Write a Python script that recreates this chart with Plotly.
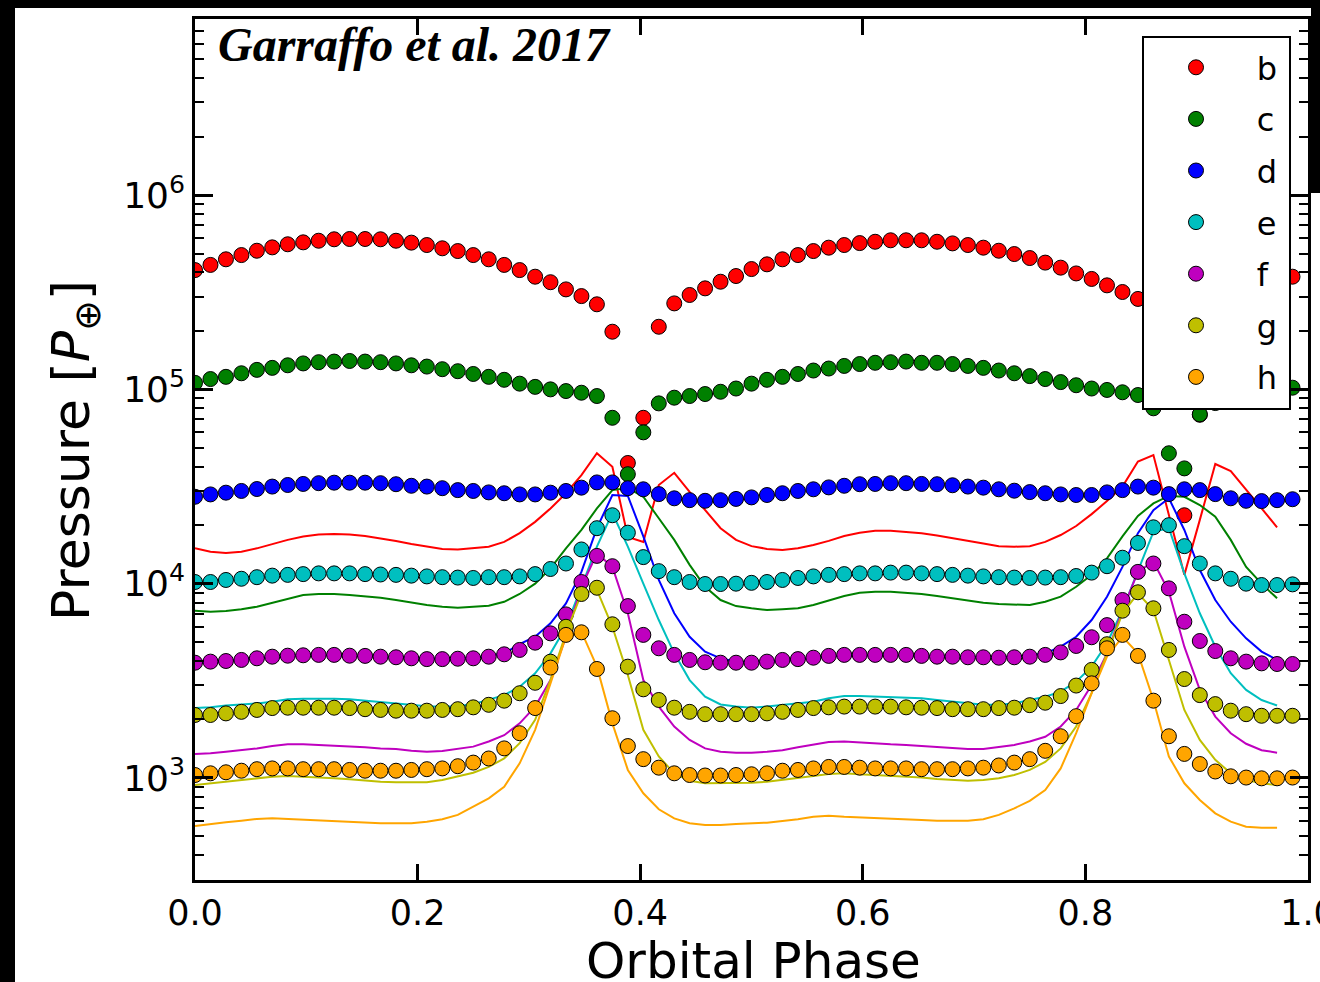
import plotly.graph_objects as go

# ---------------- data ----------------
PHASE = [0.0, 0.0139, 0.0278, 0.0417, 0.0556, 0.0694, 0.0833, 0.0972, 0.1111, 0.125,
         0.1389, 0.1528, 0.1667, 0.1806, 0.1944, 0.2083, 0.2222, 0.2361, 0.25, 0.2639,
         0.2778, 0.2917, 0.3056, 0.3194, 0.3333, 0.3472, 0.3611, 0.375, 0.3889, 0.4028,
         0.4167, 0.4306, 0.4444, 0.4583, 0.4722, 0.4861, 0.5, 0.5139, 0.5278, 0.5417,
         0.5556, 0.5694, 0.5833, 0.5972, 0.6111, 0.625, 0.6389, 0.6528, 0.6667, 0.6806,
         0.6944, 0.7083, 0.7222, 0.7361, 0.75, 0.7639, 0.7778, 0.7917, 0.8056, 0.8194,
         0.8333, 0.8472, 0.8611, 0.875, 0.8889, 0.9028, 0.9167, 0.9306, 0.9444, 0.9583,
         0.9722, 0.9861]
LINE_PHASE = PHASE[:71]

PLANETS = ["b", "c", "d", "e", "f", "g", "h"]

# markers (pressure, P_earth)
B_PTS = [4.11e5, 4.37e5, 4.67e5, 4.91e5, 5.17e5, 5.38e5, 5.58e5, 5.71e5, 5.82e5, 5.92e5,
         5.94e5, 5.94e5, 5.92e5, 5.82e5, 5.69e5, 5.53e5, 5.32e5, 5.15e5, 4.91e5, 4.67e5,
         4.37e5, 4.11e5, 3.80e5, 3.56e5, 3.27e5, 3.02e5, 2.74e5, 1.98e5, 4.18e4, 7.14e4,
         2.10e5, 2.77e5, 3.06e5, 3.31e5, 3.58e5, 3.83e5, 4.16e5, 4.40e5, 4.67e5, 4.91e5,
         5.15e5, 5.36e5, 5.53e5, 5.66e5, 5.75e5, 5.85e5, 5.85e5, 5.85e5, 5.75e5, 5.64e5,
         5.53e5, 5.36e5, 5.17e5, 4.97e5, 4.74e5, 4.49e5, 4.23e5, 3.95e5, 3.70e5, 3.43e5,
         3.17e5, 2.92e5, 2.69e5, 1.90e5, 2.25e4, 7.40e4, 2.10e5, 2.77e5, 3.06e5, 3.31e5,
         3.58e5, 3.80e5]
C_PTS = [1.08e5, 1.13e5, 1.16e5, 1.21e5, 1.26e5, 1.29e5, 1.33e5, 1.36e5, 1.38e5, 1.39e5,
         1.40e5, 1.39e5, 1.38e5, 1.36e5, 1.33e5, 1.31e5, 1.27e5, 1.24e5, 1.20e5, 1.16e5,
         1.12e5, 1.07e5, 1.03e5, 1.00e5, 9.80e4, 9.61e4, 9.24e4, 7.14e4, 3.66e4, 6.01e4,
         8.47e4, 9.06e4, 9.24e4, 9.46e4, 9.72e4, 1.01e5, 1.07e5, 1.12e5, 1.16e5, 1.20e5,
         1.25e5, 1.28e5, 1.32e5, 1.35e5, 1.37e5, 1.38e5, 1.39e5, 1.37e5, 1.37e5, 1.35e5,
         1.32e5, 1.29e5, 1.25e5, 1.21e5, 1.17e5, 1.13e5, 1.09e5, 1.05e5, 1.01e5, 9.93e4,
         9.66e4, 9.35e4, 7.99e4, 4.69e4, 3.92e4, 7.44e4, 8.50e4, 9.10e4, 9.30e4, 9.50e4,
         9.70e4, 1.02e5]
D_PTS = [2.80e4, 2.88e4, 2.94e4, 3.00e4, 3.07e4, 3.16e4, 3.22e4, 3.26e4, 3.29e4, 3.31e4,
         3.31e4, 3.31e4, 3.29e4, 3.25e4, 3.19e4, 3.16e4, 3.10e4, 3.03e4, 3.00e4, 2.95e4,
         2.92e4, 2.88e4, 2.88e4, 2.94e4, 3.00e4, 3.12e4, 3.32e4, 3.32e4, 3.10e4, 3.06e4,
         2.89e4, 2.75e4, 2.69e4, 2.67e4, 2.69e4, 2.73e4, 2.78e4, 2.86e4, 2.92e4, 3.00e4,
         3.06e4, 3.13e4, 3.19e4, 3.25e4, 3.26e4, 3.29e4, 3.29e4, 3.26e4, 3.25e4, 3.21e4,
         3.16e4, 3.12e4, 3.06e4, 3.01e4, 2.96e4, 2.92e4, 2.88e4, 2.86e4, 2.86e4, 2.95e4,
         3.03e4, 3.16e4, 3.12e4, 2.89e4, 3.06e4, 3.03e4, 2.89e4, 2.75e4, 2.67e4, 2.66e4,
         2.69e4, 2.72e4]
E_PTS = [1.02e4, 1.02e4, 1.045e4, 1.06e4, 1.08e4, 1.10e4, 1.11e4, 1.12e4, 1.13e4, 1.13e4,
         1.13e4, 1.12e4, 1.115e4, 1.11e4, 1.10e4, 1.09e4, 1.08e4, 1.075e4, 1.07e4, 1.08e4,
         1.08e4, 1.09e4, 1.12e4, 1.19e4, 1.27e4, 1.50e4, 1.93e4, 2.25e4, 1.83e4, 1.37e4,
         1.16e4, 1.08e4, 1.02e4, 9.96e3, 9.96e3, 1.00e4, 1.01e4, 1.02e4, 1.045e4, 1.07e4,
         1.09e4, 1.11e4, 1.12e4, 1.13e4, 1.13e4, 1.14e4, 1.14e4, 1.13e4, 1.12e4, 1.11e4,
         1.10e4, 1.09e4, 1.08e4, 1.075e4, 1.07e4, 1.075e4, 1.08e4, 1.095e4, 1.14e4, 1.23e4,
         1.36e4, 1.62e4, 1.95e4, 2.00e4, 1.56e4, 1.27e4, 1.13e4, 1.06e4, 1.00e4, 9.84e3,
         9.84e3, 9.92e3]
F_PTS = [3.92e3, 3.97e3, 4.00e3, 4.05e3, 4.13e3, 4.21e3, 4.26e3, 4.28e3, 4.30e3, 4.30e3,
         4.26e3, 4.25e3, 4.21e3, 4.18e3, 4.13e3, 4.09e3, 4.09e3, 4.11e3, 4.13e3, 4.21e3,
         4.33e3, 4.56e3, 4.97e3, 5.55e3, 6.95e3, 1.02e4, 1.39e4, 1.23e4, 7.67e3, 5.45e3,
         4.65e3, 4.30e3, 4.05e3, 3.94e3, 3.92e3, 3.92e3, 3.92e3, 3.97e3, 4.05e3, 4.09e3,
         4.16e3, 4.25e3, 4.30e3, 4.30e3, 4.30e3, 4.30e3, 4.30e3, 4.25e3, 4.21e3, 4.21e3,
         4.18e3, 4.18e3, 4.16e3, 4.18e3, 4.21e3, 4.30e3, 4.43e3, 4.78e3, 5.30e3, 6.12e3,
         8.24e3, 1.15e4, 1.27e4, 9.46e3, 6.37e3, 5.07e3, 4.50e3, 4.13e3, 3.97e3, 3.89e3,
         3.86e3, 3.86e3]
G_PTS = [2.11e3, 2.11e3, 2.15e3, 2.19e3, 2.24e3, 2.29e3, 2.30e3, 2.30e3, 2.30e3, 2.30e3,
         2.29e3, 2.26e3, 2.24e3, 2.22e3, 2.22e3, 2.22e3, 2.24e3, 2.26e3, 2.31e3, 2.38e3,
         2.50e3, 2.73e3, 3.09e3, 3.97e3, 6.00e3, 8.85e3, 9.53e3, 6.18e3, 3.74e3, 2.86e3,
         2.52e3, 2.30e3, 2.19e3, 2.13e3, 2.13e3, 2.13e3, 2.13e3, 2.15e3, 2.19e3, 2.24e3,
         2.29e3, 2.31e3, 2.33e3, 2.33e3, 2.33e3, 2.33e3, 2.31e3, 2.30e3, 2.29e3, 2.26e3,
         2.26e3, 2.26e3, 2.29e3, 2.30e3, 2.37e3, 2.44e3, 2.64e3, 2.99e3, 3.60e3, 4.88e3,
         7.26e3, 9.03e3, 7.47e3, 4.56e3, 3.23e3, 2.67e3, 2.40e3, 2.22e3, 2.13e3, 2.09e3,
         2.09e3, 2.09e3]
H_PTS = [1036, 1057, 1070, 1090, 1110, 1120, 1120, 1110, 1110, 1110,
         1100, 1090, 1090, 1090, 1100, 1110, 1120, 1150, 1200, 1260,
         1420, 1700, 2290, 3700, 5450, 5620, 3640, 2030, 1460, 1250,
         1130, 1057, 1036, 1030, 1030, 1036, 1045, 1057, 1090, 1100,
         1120, 1140, 1140, 1130, 1120, 1120, 1120, 1110, 1110, 1110,
         1120, 1130, 1160, 1200, 1250, 1380, 1640, 2080, 3070, 4650,
         5450, 4250, 2500, 1640, 1330, 1180, 1080, 1020, 1005, 996,
         996, 1005]

# solid model curves
B_LINE = [1.52e4, 1.46e4, 1.44e4, 1.46e4, 1.52e4, 1.60e4, 1.68e4, 1.75e4, 1.79e4, 1.80e4,
          1.79e4, 1.76e4, 1.71e4, 1.66e4, 1.60e4, 1.55e4, 1.51e4, 1.50e4, 1.52e4, 1.55e4,
          1.64e4, 1.82e4, 2.08e4, 2.44e4, 2.92e4, 3.62e4, 4.69e4, 4.00e4, 1.74e4, 1.64e4,
          3.22e4, 3.72e4, 2.97e4, 2.39e4, 1.93e4, 1.68e4, 1.56e4, 1.51e4, 1.49e4, 1.52e4,
          1.58e4, 1.66e4, 1.76e4, 1.83e4, 1.87e4, 1.87e4, 1.85e4, 1.82e4, 1.77e4, 1.71e4,
          1.66e4, 1.61e4, 1.56e4, 1.55e4, 1.56e4, 1.64e4, 1.78e4, 1.98e4, 2.28e4, 2.66e4,
          3.16e4, 4.25e4, 4.59e4, 2.25e4, 1.11e4, 2.13e4, 4.13e4, 3.80e4, 3.03e4, 2.44e4,
          1.95e4]
C_LINE = [7.26e3, 7.18e3, 7.23e3, 7.38e3, 7.61e3, 7.98e3, 8.41e3, 8.75e3, 8.85e3, 8.85e3,
          8.75e3, 8.64e3, 8.47e3, 8.24e3, 7.98e3, 7.76e3, 7.61e3, 7.52e3, 7.61e3, 7.70e3,
          8.07e3, 8.85e3, 1.00e4, 1.20e4, 1.52e4, 1.89e4, 2.44e4, 3.03e4, 3.11e4, 2.80e4,
          2.17e4, 1.68e4, 1.25e4, 9.64e3, 8.24e3, 7.67e3, 7.47e3, 7.32e3, 7.38e3, 7.47e3,
          7.76e3, 8.17e3, 8.64e3, 8.99e3, 9.10e3, 9.10e3, 8.99e3, 8.85e3, 8.64e3, 8.41e3,
          8.17e3, 7.98e3, 7.86e3, 7.84e3, 7.76e3, 8.07e3, 8.57e3, 9.64e3, 1.11e4, 1.35e4,
          1.75e4, 2.23e4, 2.59e4, 2.83e4, 2.80e4, 2.54e4, 2.21e4, 1.68e4, 1.22e4, 1.00e4,
          8.41e3]
D_LINE = [3.90e3, 3.95e3, 4.00e3, 4.05e3, 4.12e3, 4.20e3, 4.26e3, 4.28e3, 4.30e3, 4.30e3,
          4.27e3, 4.24e3, 4.20e3, 4.17e3, 4.13e3, 4.10e3, 4.10e3, 4.12e3, 4.15e3, 4.25e3,
          4.38e3, 4.89e3, 5.33e3, 6.25e3, 7.92e3, 1.15e4, 1.93e4, 2.86e4, 2.83e4, 1.75e4,
          1.045e4, 7.04e3, 5.33e3, 4.47e3, 4.13e3, 3.97e3, 3.95e3, 3.97e3, 4.03e3, 4.08e3,
          4.15e3, 4.22e3, 4.28e3, 4.30e3, 4.30e3, 4.30e3, 4.28e3, 4.25e3, 4.22e3, 4.20e3,
          4.18e3, 4.17e3, 4.17e3, 4.20e3, 4.28e3, 4.38e3, 4.74e3, 5.33e3, 6.50e3, 8.57e3,
          1.22e4, 1.82e4, 2.39e4, 2.75e4, 1.89e4, 1.175e4, 8.24e3, 6.37e3, 5.23e3, 4.47e3,
          4.05e3]
E_LINE = [2.29e3, 2.31e3, 2.36e3, 2.38e3, 2.42e3, 2.47e3, 2.54e3, 2.56e3, 2.57e3, 2.56e3,
          2.54e3, 2.50e3, 2.47e3, 2.42e3, 2.38e3, 2.34e3, 2.33e3, 2.34e3, 2.40e3, 2.52e3,
          2.67e3, 2.95e3, 3.46e3, 4.38e3, 6.00e3, 9.64e3, 1.55e4, 2.31e4, 1.55e4, 1.00e4,
          6.50e3, 4.38e3, 3.19e3, 2.62e3, 2.39e3, 2.33e3, 2.30e3, 2.33e3, 2.38e3, 2.42e3,
          2.47e3, 2.57e3, 2.64e3, 2.64e3, 2.62e3, 2.60e3, 2.59e3, 2.57e3, 2.52e3, 2.47e3,
          2.42e3, 2.38e3, 2.38e3, 2.42e3, 2.52e3, 2.62e3, 2.78e3, 3.13e3, 3.74e3, 4.93e3,
          7.32e3, 1.175e4, 1.85e4, 1.93e4, 1.13e4, 7.04e3, 4.74e3, 3.46e3, 2.84e3, 2.52e3,
          2.36e3]
F_LINE = [1.33e3, 1.34e3, 1.365e3, 1.39e3, 1.42e3, 1.46e3, 1.49e3, 1.49e3, 1.48e3, 1.47e3,
          1.46e3, 1.44e3, 1.42e3, 1.41e3, 1.38e3, 1.365e3, 1.375e3, 1.41e3, 1.45e3, 1.54e3,
          1.66e3, 1.91e3, 2.33e3, 3.19e3, 5.33e3, 9.64e3, 1.43e4, 1.22e4, 7.04e3, 3.19e3,
          2.33e3, 1.84e3, 1.57e3, 1.42e3, 1.365e3, 1.35e3, 1.35e3, 1.365e3, 1.39e3, 1.44e3,
          1.48e3, 1.53e3, 1.54e3, 1.52e3, 1.51e3, 1.49e3, 1.48e3, 1.46e3, 1.44e3, 1.42e3,
          1.41e3, 1.41e3, 1.44e3, 1.48e3, 1.54e3, 1.63e3, 1.84e3, 2.24e3, 3.01e3, 4.38e3,
          7.32e3, 1.15e4, 1.30e4, 9.10e3, 4.74e3, 2.84e3, 2.07e3, 1.70e3, 1.50e3, 1.39e3,
          1.35e3]
G_LINE = [920, 939, 957, 977, 996, 1016, 1023, 1016, 1008, 996,
          985, 968, 957, 950, 946, 950, 977, 1016, 1065, 1140,
          1260, 1510, 1990, 3190, 5550, 8920, 9280, 6000, 3390, 1770,
          1290, 1057, 968, 939, 939, 939, 946, 957, 977, 996,
          1023, 1048, 1057, 1045, 1036, 1023, 1016, 1005, 989, 977,
          968, 977, 996, 1036, 1100, 1210, 1420, 1840, 2730, 4380,
          7040, 8920, 7320, 4050, 2240, 1570, 1240, 1057, 977, 939,
          920]
H_LINE = [566, 580, 592, 603, 615, 620, 615, 608, 603, 601,
          596, 592, 585, 585, 585, 596, 613, 646, 711, 786,
          902, 1190, 1770, 3070, 5330, 5660, 3740, 1910, 1100, 834,
          690, 620, 585, 573, 573, 580, 585, 589, 601, 613,
          632, 640, 632, 628, 625, 620, 615, 608, 603, 601,
          603, 613, 646, 698, 762, 867, 1120, 1700, 2730, 4210,
          5330, 4380, 2520, 1290, 939, 771, 658, 596, 561, 555,
          555]

X_TICKS = [0.0, 0.2, 0.4, 0.6, 0.8, 1.0]
X_TICKTEXT = ["0.0", "0.2", "0.4", "0.6", "0.8", "1.0"]
Y_TICKS = [1e3, 1e4, 1e5, 1e6]
Y_TICKTEXT = ["10<sup>3</sup>", "10<sup>4</sup>", "10<sup>5</sup>", "10<sup>6</sup>"]
Y_MINOR = [m * 10 ** e for e in (2, 3, 4, 5, 6) for m in range(2, 10)]

COLORS = ["#ff0000", "#008000", "#0000ff", "#00bfbf", "#bf00bf", "#bfbf00", "#ffa500"]
POINTS = [B_PTS, C_PTS, D_PTS, E_PTS, F_PTS, G_PTS, H_PTS]
LINES = [B_LINE, C_LINE, D_LINE, E_LINE, F_LINE, G_LINE, H_LINE]

# ---------------- geometry (pixels of the 1320x982 canvas) ----------------
W, H = 1320, 982
PL, PR, PT, PB = 195, 1308, 19, 880


def px(x):
    return (x - PL) / (PR - PL)


def py(y):
    return (PB - y) / (PB - PT)


FONT = "DejaVu Sans"
NB = "\u00a0"

fig = go.Figure()
for name, col, pts, line in zip(PLANETS, COLORS, POINTS, LINES):
    fig.add_trace(go.Scatter(x=LINE_PHASE, y=line, mode="lines",
                             line=dict(color=col, width=2), showlegend=False,
                             hoverinfo="skip"))
    fig.add_trace(go.Scatter(x=PHASE, y=pts, mode="markers", name=NB * 4 + name,
                             legendgroup=name,
                             marker=dict(color=col, size=15,
                                         line=dict(color="black", width=1))))

axis_common = dict(showline=True, linecolor="black", linewidth=2.5, mirror="allticks",
                   ticks="inside", tickcolor="black", tickwidth=2.5, showgrid=False,
                   zeroline=False, automargin=False)

fig.update_xaxes(range=[0, 1.0], tickmode="array", tickvals=X_TICKS, ticktext=X_TICKTEXT,
                 ticklen=16, tickfont=dict(family=FONT, size=35, color="black"),
                 ticklabeloverflow="allow", **axis_common)
fig.update_yaxes(type="log", range=[2.475, 6.906], tickmode="array", tickvals=Y_TICKS,
                 ticktext=Y_TICKTEXT, ticklen=18,
                 tickfont=dict(family=FONT, size=36, color="black"),
                 minor=dict(tickmode="array", tickvals=Y_MINOR, ticks="inside",
                            ticklen=9, tickwidth=2, tickcolor="black", showgrid=False),
                 **axis_common)

shapes = [
    # white canvas inside the black frame
    dict(type="rect", xref="paper", yref="paper", x0=px(15), x1=px(1321),
         y0=py(983), y1=py(8), fillcolor="white", line=dict(width=0), layer="below"),
    # black strip at the upper right edge
    dict(type="rect", xref="paper", yref="paper", x0=px(1311), x1=px(1321),
         y0=py(193), y1=py(0), fillcolor="black", line=dict(width=0), layer="above"),
    # legend frame
    dict(type="rect", xref="paper", yref="paper", x0=px(1143), x1=px(1290),
         y0=py(409), y1=py(37), fillcolor="white", line=dict(color="black", width=2),
         layer="above"),
]

annotations = [
    dict(text="<b><i>Garraffo et al. 2017</i></b>", xref="paper", yref="paper",
         x=px(216), y=py(45), xanchor="left", yanchor="middle", showarrow=False,
         font=dict(family="Liberation Serif", size=48, color="black")),
    dict(text="Orbital Phase", xref="paper", yref="paper", x=px(753), y=py(961),
         xanchor="center", yanchor="middle", showarrow=False,
         font=dict(family=FONT, size=50, color="black")),
    dict(text="Pressure [<i>P</i><sub>⊕</sub>]", xref="paper", yref="paper",
         x=px(75), y=py(451), xanchor="center", yanchor="middle", textangle=-90,
         showarrow=False, font=dict(family=FONT, size=52, color="black")),
]

fig.update_layout(
    width=W, height=H, autosize=False,
    margin=dict(l=PL, r=W - PR, t=PT, b=H - PB, pad=0, autoexpand=False),
    paper_bgcolor="black", plot_bgcolor="white",
    shapes=shapes, annotations=annotations,
    showlegend=True,
    legend=dict(x=px(1176), y=py(40), xanchor="left", yanchor="top",
                bgcolor="rgba(0,0,0,0)", borderwidth=0, tracegroupgap=7,
                font=dict(family=FONT, size=32, color="black")),
    font=dict(family=FONT, color="black"),
)

fig.write_html("out.html",
               config={"displayModeBar": False},
               post_script="document.body.style.margin='0px';"
                           "document.body.style.background='black';")
